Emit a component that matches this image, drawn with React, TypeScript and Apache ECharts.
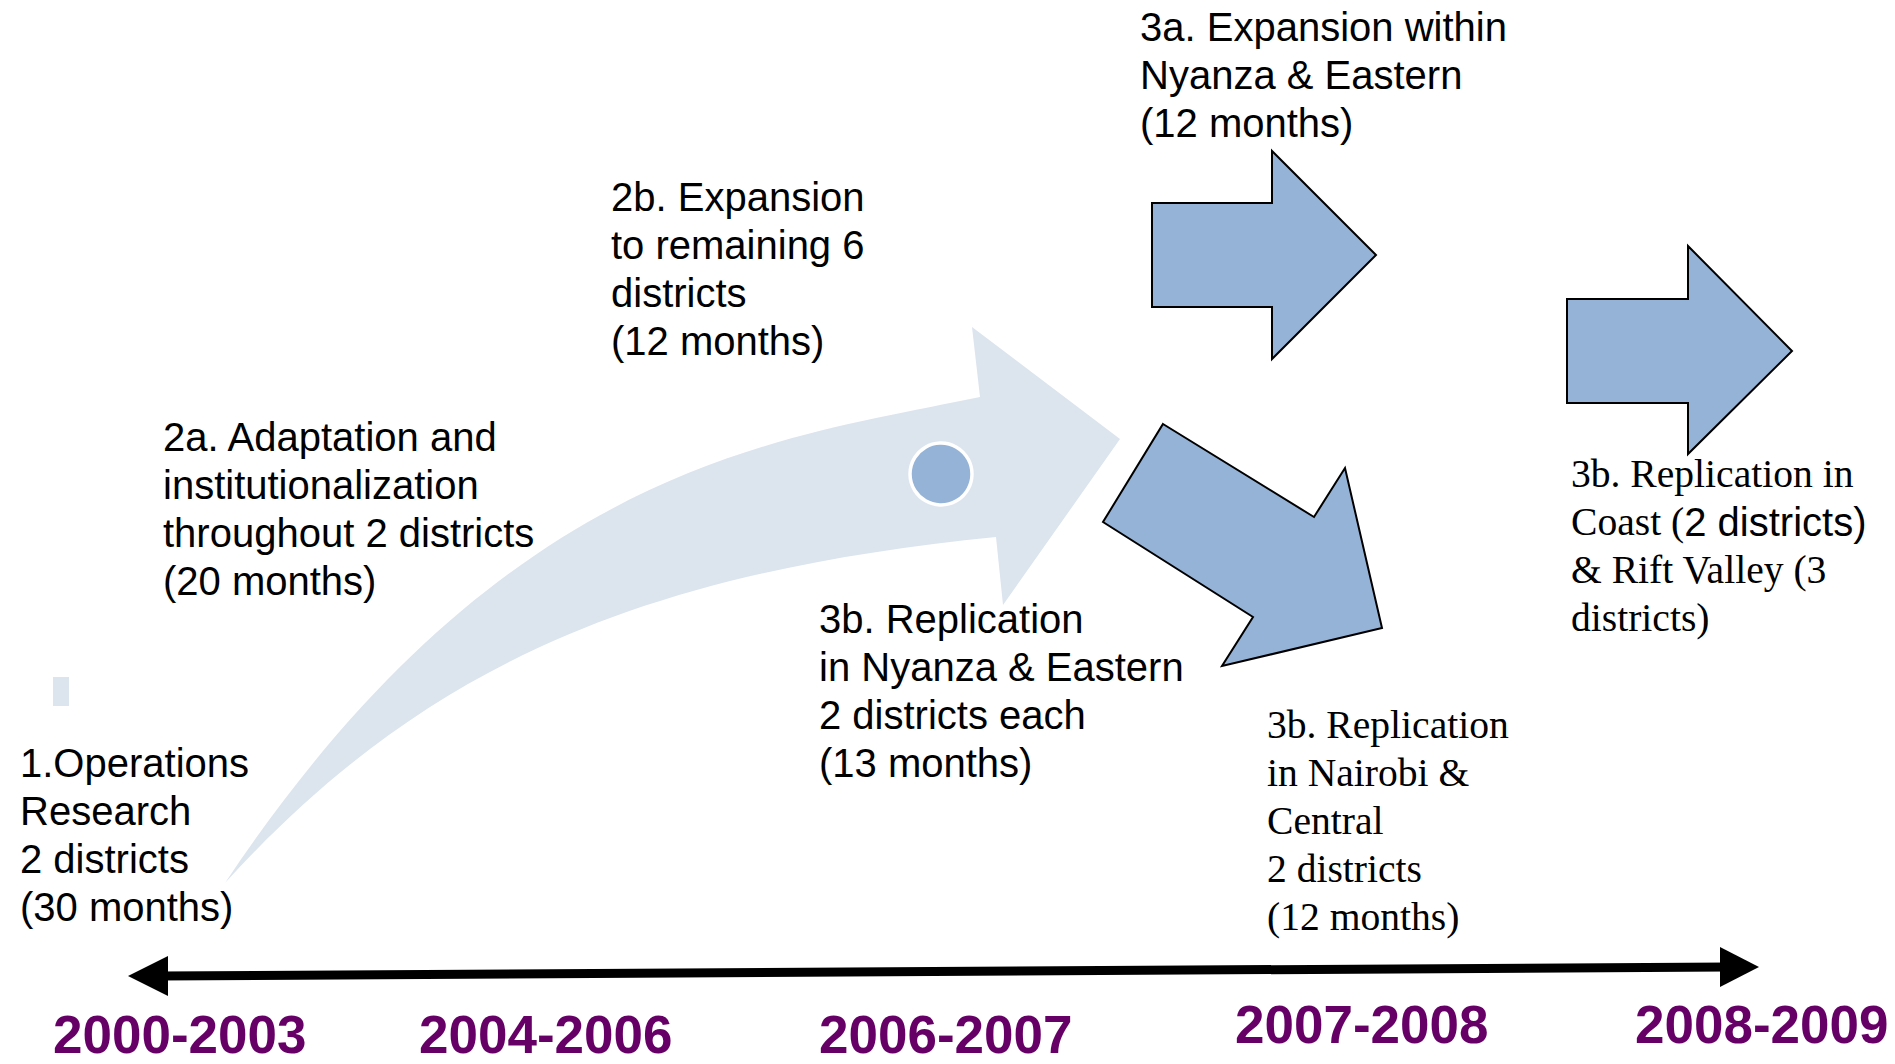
import React, { useEffect, useRef } from "react";
import * as echarts from "echarts";

// ---- content (text) ----
const periods = ["2000-2003", "2004-2006", "2006-2007", "2007-2008", "2008-2009"];
const stage1 = ["1.Operations", "Research", "2 districts", "(30 months)"];
const stage2a = ["2a. Adaptation and", "institutionalization", "throughout 2 districts", "(20 months)"];
const stage2b = ["2b. Expansion", "to remaining 6", "districts", "(12 months)"];
const stage3a = ["3a. Expansion within", "Nyanza & Eastern", "(12 months)"];
const stage3bNyanza = ["3b. Replication", "in Nyanza & Eastern", "2 districts each", "(13 months)"];
const stage3bNairobi = ["3b. Replication", "in Nairobi &", "Central", "2 districts", "(12 months)"];
const stage3bCoast = ["3b. Replication in", "{s|Coast (}{a|2 districts)}", "& Rift Valley (3", "districts)"];

// ---- layout (positions / sizes) ----
const periodX = [53, 419, 819, 1235, 1635];
const periodY = [1034, 1034, 1034, 1024, 1024];

const SANS = '"Liberation Sans", Arial, sans-serif';
const SERIF = '"Liberation Serif", "Times New Roman", serif';
const PURPLE = "#660066";
const BLUE = "#95B3D7";
const LIGHT = "#DCE4EE";

const curvedArrowPath =
  "M225,883 C505,463 780,439 980,397 L972,327 L1120,439 L1003,605 L996,537 C646,572 425,663 225,883 Z";

echarts.graphic.registerShape("curvedArrow", echarts.graphic.extendPath(curvedArrowPath, {}));

function blockArrow(left: number, shaftTop: number, shaftBottom: number, headX: number, headTop: number, headBottom: number, tipX: number, tipY: number) {
  return [
    [left, shaftTop],
    [headX, shaftTop],
    [headX, headTop],
    [tipX, tipY],
    [headX, headBottom],
    [headX, shaftBottom],
    [left, shaftBottom],
  ];
}

function textBlock(lines: string[], x: number, top: number, family: string, size: number, extra: any = {}) {
  return {
    type: "text",
    x,
    y: top,
    z: 10,
    style: {
      text: lines.join("\n"),
      fontFamily: family,
      fontSize: size,
      lineHeight: 48,
      fill: "#000",
      align: "left",
      verticalAlign: "top",
      ...extra,
    },
  };
}

export default function App() {
  const ref = useRef<HTMLDivElement>(null);
  useEffect(() => {
    if (!ref.current) return;
    const chart = echarts.init(ref.current, undefined, { renderer: "svg" });

    const elements: any[] = [];

    // light curved arrow
    elements.push({ type: "curvedArrow", x: 0, y: 0, z: 1, style: { fill: LIGHT } });
    // circle on curved arrow
    elements.push({
      type: "circle",
      z: 2,
      shape: { cx: 941, cy: 474, r: 31 },
      style: { fill: BLUE, stroke: "#fff", lineWidth: 3.5 },
    });
    // small light rect
    elements.push({ type: "rect", z: 1, shape: { x: 53, y: 677, width: 16, height: 29 }, style: { fill: LIGHT } });

    // block arrows
    const arrowStyle = { fill: BLUE, stroke: "#000", lineWidth: 2, lineJoin: "miter" };
    elements.push({
      type: "polygon",
      z: 3,
      shape: { points: blockArrow(1152, 203, 307, 1272, 151, 359, 1376, 255) },
      style: arrowStyle,
    });
    elements.push({
      type: "polygon",
      z: 3,
      shape: { points: blockArrow(1567, 299, 403, 1688, 246, 454, 1792, 351) },
      style: arrowStyle,
    });
    elements.push({
      type: "polygon",
      z: 3,
      shape: {
        points: [
          [1163, 424],
          [1314, 517],
          [1345, 468],
          [1382, 628],
          [1222, 666],
          [1253, 617],
          [1103, 522],
        ],
      },
      style: arrowStyle,
    });

    // timeline
    elements.push({
      type: "line",
      z: 4,
      shape: { x1: 160, y1: 976, x2: 1728, y2: 967 },
      style: { stroke: "#000", lineWidth: 9 },
    });
    elements.push({
      type: "polygon",
      z: 4,
      shape: { points: [[128, 976], [168, 956], [168, 996]] },
      style: { fill: "#000" },
    });
    elements.push({
      type: "polygon",
      z: 4,
      shape: { points: [[1759, 967], [1720, 947], [1720, 987]] },
      style: { fill: "#000" },
    });

    // period labels
    periods.forEach((p, i) => {
      elements.push({
        type: "text",
        x: periodX[i],
        y: periodY[i],
        z: 10,
        style: {
          text: p,
          fontFamily: SANS,
          fontWeight: "bold",
          fontSize: 53,
          lineHeight: 40,
          fill: PURPLE,
          align: "left",
          verticalAlign: "middle",
        },
      });
    });

    // stage texts
    elements.push(textBlock(stage1, 20, 739, SANS, 40));
    elements.push(textBlock(stage2a, 163, 413, SANS, 40));
    elements.push(textBlock(stage2b, 611, 173, SANS, 40));
    elements.push(textBlock(stage3a, 1140, 3, SANS, 40));
    elements.push(textBlock(stage3bNyanza, 819, 595, SANS, 40));
    elements.push(textBlock(stage3bNairobi, 1267, 701, SERIF, 39.6));
    elements.push(
      textBlock(stage3bCoast, 1571, 450, SERIF, 39.6, {
        rich: {
          s: { fontFamily: SERIF, fontSize: 39.6, lineHeight: 48, fill: "#000" },
          a: { fontFamily: SANS, fontSize: 40, lineHeight: 48, fill: "#000" },
        },
      })
    );

    chart.setOption({
      animation: false,
      backgroundColor: "#fff",
      graphic: { elements },
    });

    return () => chart.dispose();
  }, []);

  return (
    <div
      ref={ref}
      style={{ position: "fixed", left: 0, top: 0, width: 1895, height: 1064 }}
    />
  );
}
